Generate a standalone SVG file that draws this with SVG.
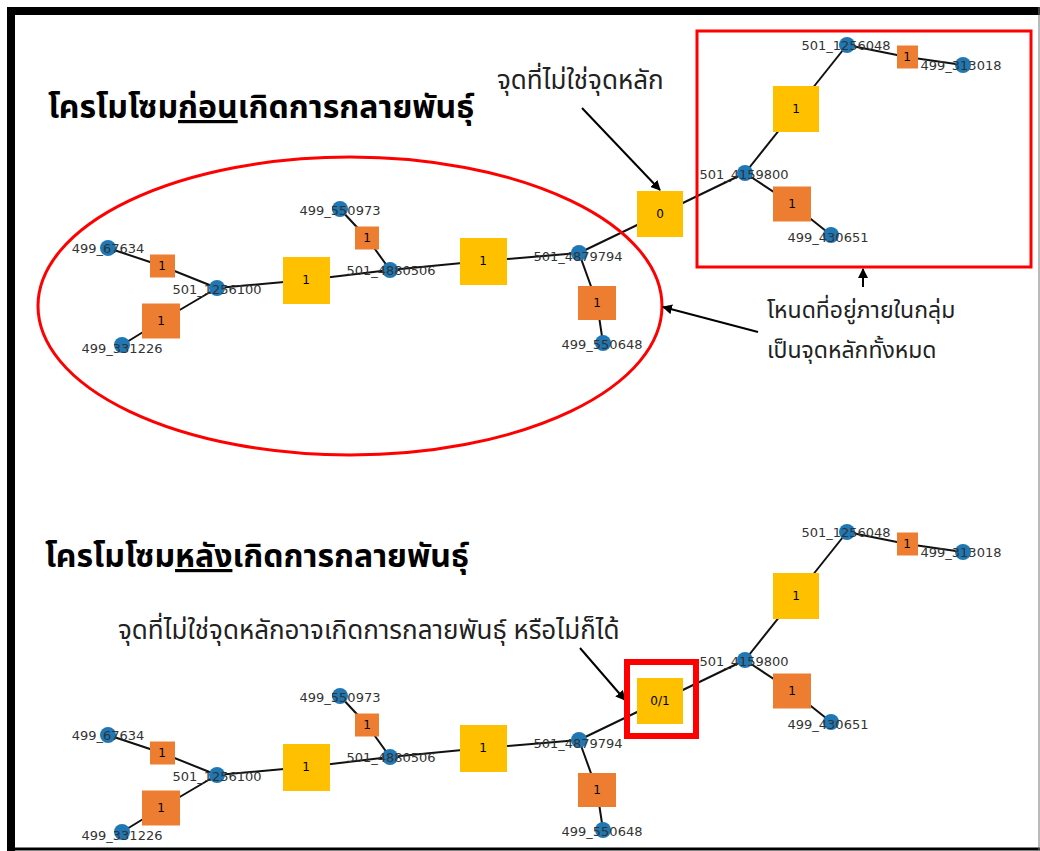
<svg xmlns="http://www.w3.org/2000/svg" width="1040" height="851" viewBox="0 0 1040 851">
<defs>
<style>
.e{stroke:#111;stroke-width:2;fill:none}
.v{fill:#1f77b4}
.fo{fill:#ED7D31}
.fy{fill:#FFC000}
.lbl{font-family:"DejaVu Sans",sans-serif;font-size:13px;fill:#333;text-anchor:middle;dominant-baseline:central}
.fl{font-family:"DejaVu Sans",sans-serif;font-size:12px;fill:#000;text-anchor:middle;dominant-baseline:central}
.th{font-family:"Noto Sans Thai","Noto Sans","DejaVu Sans",sans-serif;fill:#222}
.title{font-size:32px;font-weight:bold;fill:#000}
.ann{font-size:26px}
.ann2{font-size:23px}
.arr{stroke:#000;stroke-width:2;fill:none;marker-end:url(#ah)}
.red{stroke:#ff0000;fill:none}
</style>
<marker id="ah" viewBox="0 0 10 10" refX="9" refY="5" markerWidth="5" markerHeight="5" orient="auto" markerUnits="strokeWidth">
<path d="M0,0 L10,5 L0,10 z" fill="#000"/>
</marker>
</defs>
<rect x="0" y="0" width="1040" height="851" fill="#fff"/>
<g id="frame">
<line x1="7" y1="11" x2="1040" y2="11" stroke="#000" stroke-width="8"/>
<line x1="11" y1="7" x2="11" y2="851" stroke="#000" stroke-width="8"/>
<line x1="7" y1="849" x2="1040" y2="849" stroke="#000" stroke-width="3"/>
<line x1="1039" y1="7" x2="1039" y2="851" stroke="#777" stroke-width="1"/>
</g>

<g id="titles">
<text class="th title" x="48" y="118">โครโมโซม<tspan text-decoration="underline">ก่อน</tspan>เกิดการกลายพันธุ์</text>
<text class="th title" x="45" y="567">โครโมโซม<tspan text-decoration="underline">หลัง</tspan>เกิดการกลายพันธุ์</text>
</g>

<!-- TOP GRAPH -->
<g id="top-connectors">
<polyline class="e" points="108,248 162,266 217,288"/>
<polyline class="e" points="122,345 161,321 217,288"/>
<polyline class="e" points="217,288 306,280 390,270"/>
<polyline class="e" points="340,209 367,238 390,270"/>
<polyline class="e" points="390,270 483,261 579,253"/>
<polyline class="e" points="579,253 597,303 603,343"/>
<polyline class="e" points="579,253 660,214 745,173"/>
<polyline class="e" points="745,173 796,109 847,45"/>
<polyline class="e" points="847,45 907,57 963,65"/>
<polyline class="e" points="745,173 792,204 831,235"/>
</g>
<g id="top-factors">
<g id="t-f1"><rect class="fo" x="150" y="254.5" width="25" height="23"/><text class="fl" x="162" y="266">1</text></g>
<g id="t-f2"><rect class="fo" x="142" y="303.5" width="38" height="35"/><text class="fl" x="161" y="321">1</text></g>
<g id="t-f3"><rect class="fy" x="283" y="257" width="47" height="47"/><text class="fl" x="306" y="280">1</text></g>
<g id="t-f4"><rect class="fo" x="355" y="226.5" width="24" height="23"/><text class="fl" x="367" y="238">1</text></g>
<g id="t-f5"><rect class="fy" x="460" y="238" width="47" height="47"/><text class="fl" x="483" y="261">1</text></g>
<g id="t-f6"><rect class="fo" x="578" y="286" width="38" height="34"/><text class="fl" x="597" y="303">1</text></g>
<g id="t-f7"><rect class="fy" x="637" y="191" width="46" height="46"/><text class="fl" x="660" y="214">0</text></g>
<g id="t-f8"><rect class="fy" x="773" y="86" width="46" height="46"/><text class="fl" x="796" y="109">1</text></g>
<g id="t-f9"><rect class="fo" x="897" y="45.5" width="21" height="23"/><text class="fl" x="907" y="57">1</text></g>
<g id="t-f10"><rect class="fo" x="773" y="186.5" width="38" height="35"/><text class="fl" x="792" y="204">1</text></g>
</g>
<g id="top-variables">
<g id="t-499_67634"><circle class="v" cx="108" cy="248" r="8"/><text class="lbl" x="108" y="248">499_67634</text></g>
<g id="t-501_1256100"><circle class="v" cx="217" cy="288" r="8"/><text class="lbl" x="217" y="289">501_1256100</text></g>
<g id="t-499_331226"><circle class="v" cx="122" cy="345" r="8"/><text class="lbl" x="122" y="348">499_331226</text></g>
<g id="t-499_550973"><circle class="v" cx="340" cy="209" r="8"/><text class="lbl" x="340" y="210">499_550973</text></g>
<g id="t-501_4880506"><circle class="v" cx="390" cy="270" r="8"/><text class="lbl" x="391" y="270">501_4880506</text></g>
<g id="t-501_4879794"><circle class="v" cx="579" cy="253" r="8"/><text class="lbl" x="578" y="256">501_4879794</text></g>
<g id="t-499_550648"><circle class="v" cx="603" cy="343" r="8"/><text class="lbl" x="602" y="344">499_550648</text></g>
<g id="t-501_4159800"><circle class="v" cx="745" cy="173" r="8"/><text class="lbl" x="744" y="174">501_4159800</text></g>
<g id="t-501_1256048"><circle class="v" cx="847" cy="45" r="8"/><text class="lbl" x="846" y="45">501_1256048</text></g>
<g id="t-499_313018"><circle class="v" cx="963" cy="65" r="8"/><text class="lbl" x="961" y="65">499_313018</text></g>
<g id="t-499_430651"><circle class="v" cx="831" cy="235" r="8"/><text class="lbl" x="828" y="237">499_430651</text></g>
</g>

<g id="top-annotations">
<ellipse id="core-ellipse" class="red" cx="350" cy="306" rx="312" ry="149" stroke-width="3"/>
<rect id="core-box" class="red" x="697" y="31" width="334" height="236" stroke-width="3"/>
<text class="th ann" x="497" y="89">จุดที่ไม่ใช่จุดหลัก</text>
<text class="th ann2" x="767" y="318">โหนดที่อยู่ภายในกลุ่ม</text>
<text class="th ann2" x="767" y="358">เป็นจุดหลักทั้งหมด</text>
</g>
<g id="annotation-arrows">
<line class="arr" x1="582" y1="108" x2="660" y2="190"/>
<line class="arr" x1="863" y1="287" x2="863" y2="269"/>
<line class="arr" x1="758" y1="332" x2="663" y2="307"/>
<line class="arr" x1="580" y1="648" x2="625" y2="700"/>
</g>

<!-- BOTTOM GRAPH -->
<g transform="translate(0,487)">
<g id="bottom-connectors">
<polyline class="e" points="108,248 162,266 217,288"/>
<polyline class="e" points="122,345 161,321 217,288"/>
<polyline class="e" points="217,288 306,280 390,270"/>
<polyline class="e" points="340,209 367,238 390,270"/>
<polyline class="e" points="390,270 483,261 579,253"/>
<polyline class="e" points="579,253 597,303 603,343"/>
<polyline class="e" points="579,253 660,214 745,173"/>
<polyline class="e" points="745,173 796,109 847,45"/>
<polyline class="e" points="847,45 907,57 963,65"/>
<polyline class="e" points="745,173 792,204 831,235"/>
</g>
<g id="bottom-factors">
<g id="b-f1"><rect class="fo" x="150" y="254.5" width="25" height="23"/><text class="fl" x="162" y="266">1</text></g>
<g id="b-f2"><rect class="fo" x="142" y="303.5" width="38" height="35"/><text class="fl" x="161" y="321">1</text></g>
<g id="b-f3"><rect class="fy" x="283" y="257" width="47" height="47"/><text class="fl" x="306" y="280">1</text></g>
<g id="b-f4"><rect class="fo" x="355" y="226.5" width="24" height="23"/><text class="fl" x="367" y="238">1</text></g>
<g id="b-f5"><rect class="fy" x="460" y="238" width="47" height="47"/><text class="fl" x="483" y="261">1</text></g>
<g id="b-f6"><rect class="fo" x="578" y="286" width="38" height="34"/><text class="fl" x="597" y="303">1</text></g>
<g id="b-f7"><rect class="fy" x="637" y="191" width="46" height="46"/><text class="fl" x="660" y="214">0/1</text></g>
<g id="b-f8"><rect class="fy" x="773" y="86" width="46" height="46"/><text class="fl" x="796" y="109">1</text></g>
<g id="b-f9"><rect class="fo" x="897" y="45.5" width="21" height="23"/><text class="fl" x="907" y="57">1</text></g>
<g id="b-f10"><rect class="fo" x="773" y="186.5" width="38" height="35"/><text class="fl" x="792" y="204">1</text></g>
</g>
<g id="bottom-variables">
<g id="b-499_67634"><circle class="v" cx="108" cy="248" r="8"/><text class="lbl" x="108" y="248">499_67634</text></g>
<g id="b-501_1256100"><circle class="v" cx="217" cy="288" r="8"/><text class="lbl" x="217" y="289">501_1256100</text></g>
<g id="b-499_331226"><circle class="v" cx="122" cy="345" r="8"/><text class="lbl" x="122" y="348">499_331226</text></g>
<g id="b-499_550973"><circle class="v" cx="340" cy="209" r="8"/><text class="lbl" x="340" y="210">499_550973</text></g>
<g id="b-501_4880506"><circle class="v" cx="390" cy="270" r="8"/><text class="lbl" x="391" y="270">501_4880506</text></g>
<g id="b-501_4879794"><circle class="v" cx="579" cy="253" r="8"/><text class="lbl" x="578" y="256">501_4879794</text></g>
<g id="b-499_550648"><circle class="v" cx="603" cy="343" r="8"/><text class="lbl" x="602" y="344">499_550648</text></g>
<g id="b-501_4159800"><circle class="v" cx="745" cy="173" r="8"/><text class="lbl" x="744" y="174">501_4159800</text></g>
<g id="b-501_1256048"><circle class="v" cx="847" cy="45" r="8"/><text class="lbl" x="846" y="45">501_1256048</text></g>
<g id="b-499_313018"><circle class="v" cx="963" cy="65" r="8"/><text class="lbl" x="961" y="65">499_313018</text></g>
<g id="b-499_430651"><circle class="v" cx="831" cy="235" r="8"/><text class="lbl" x="828" y="237">499_430651</text></g>
</g>
</g>
<g id="bottom-annotations">
<rect id="noncore-box" class="red" x="627" y="662" width="69" height="74" stroke-width="6"/>
<text class="th ann" x="118" y="639">จุดที่ไม่ใช่จุดหลักอาจเกิดการกลายพันธุ์ หรือไม่ก็ได้</text>
</g>
</svg>
